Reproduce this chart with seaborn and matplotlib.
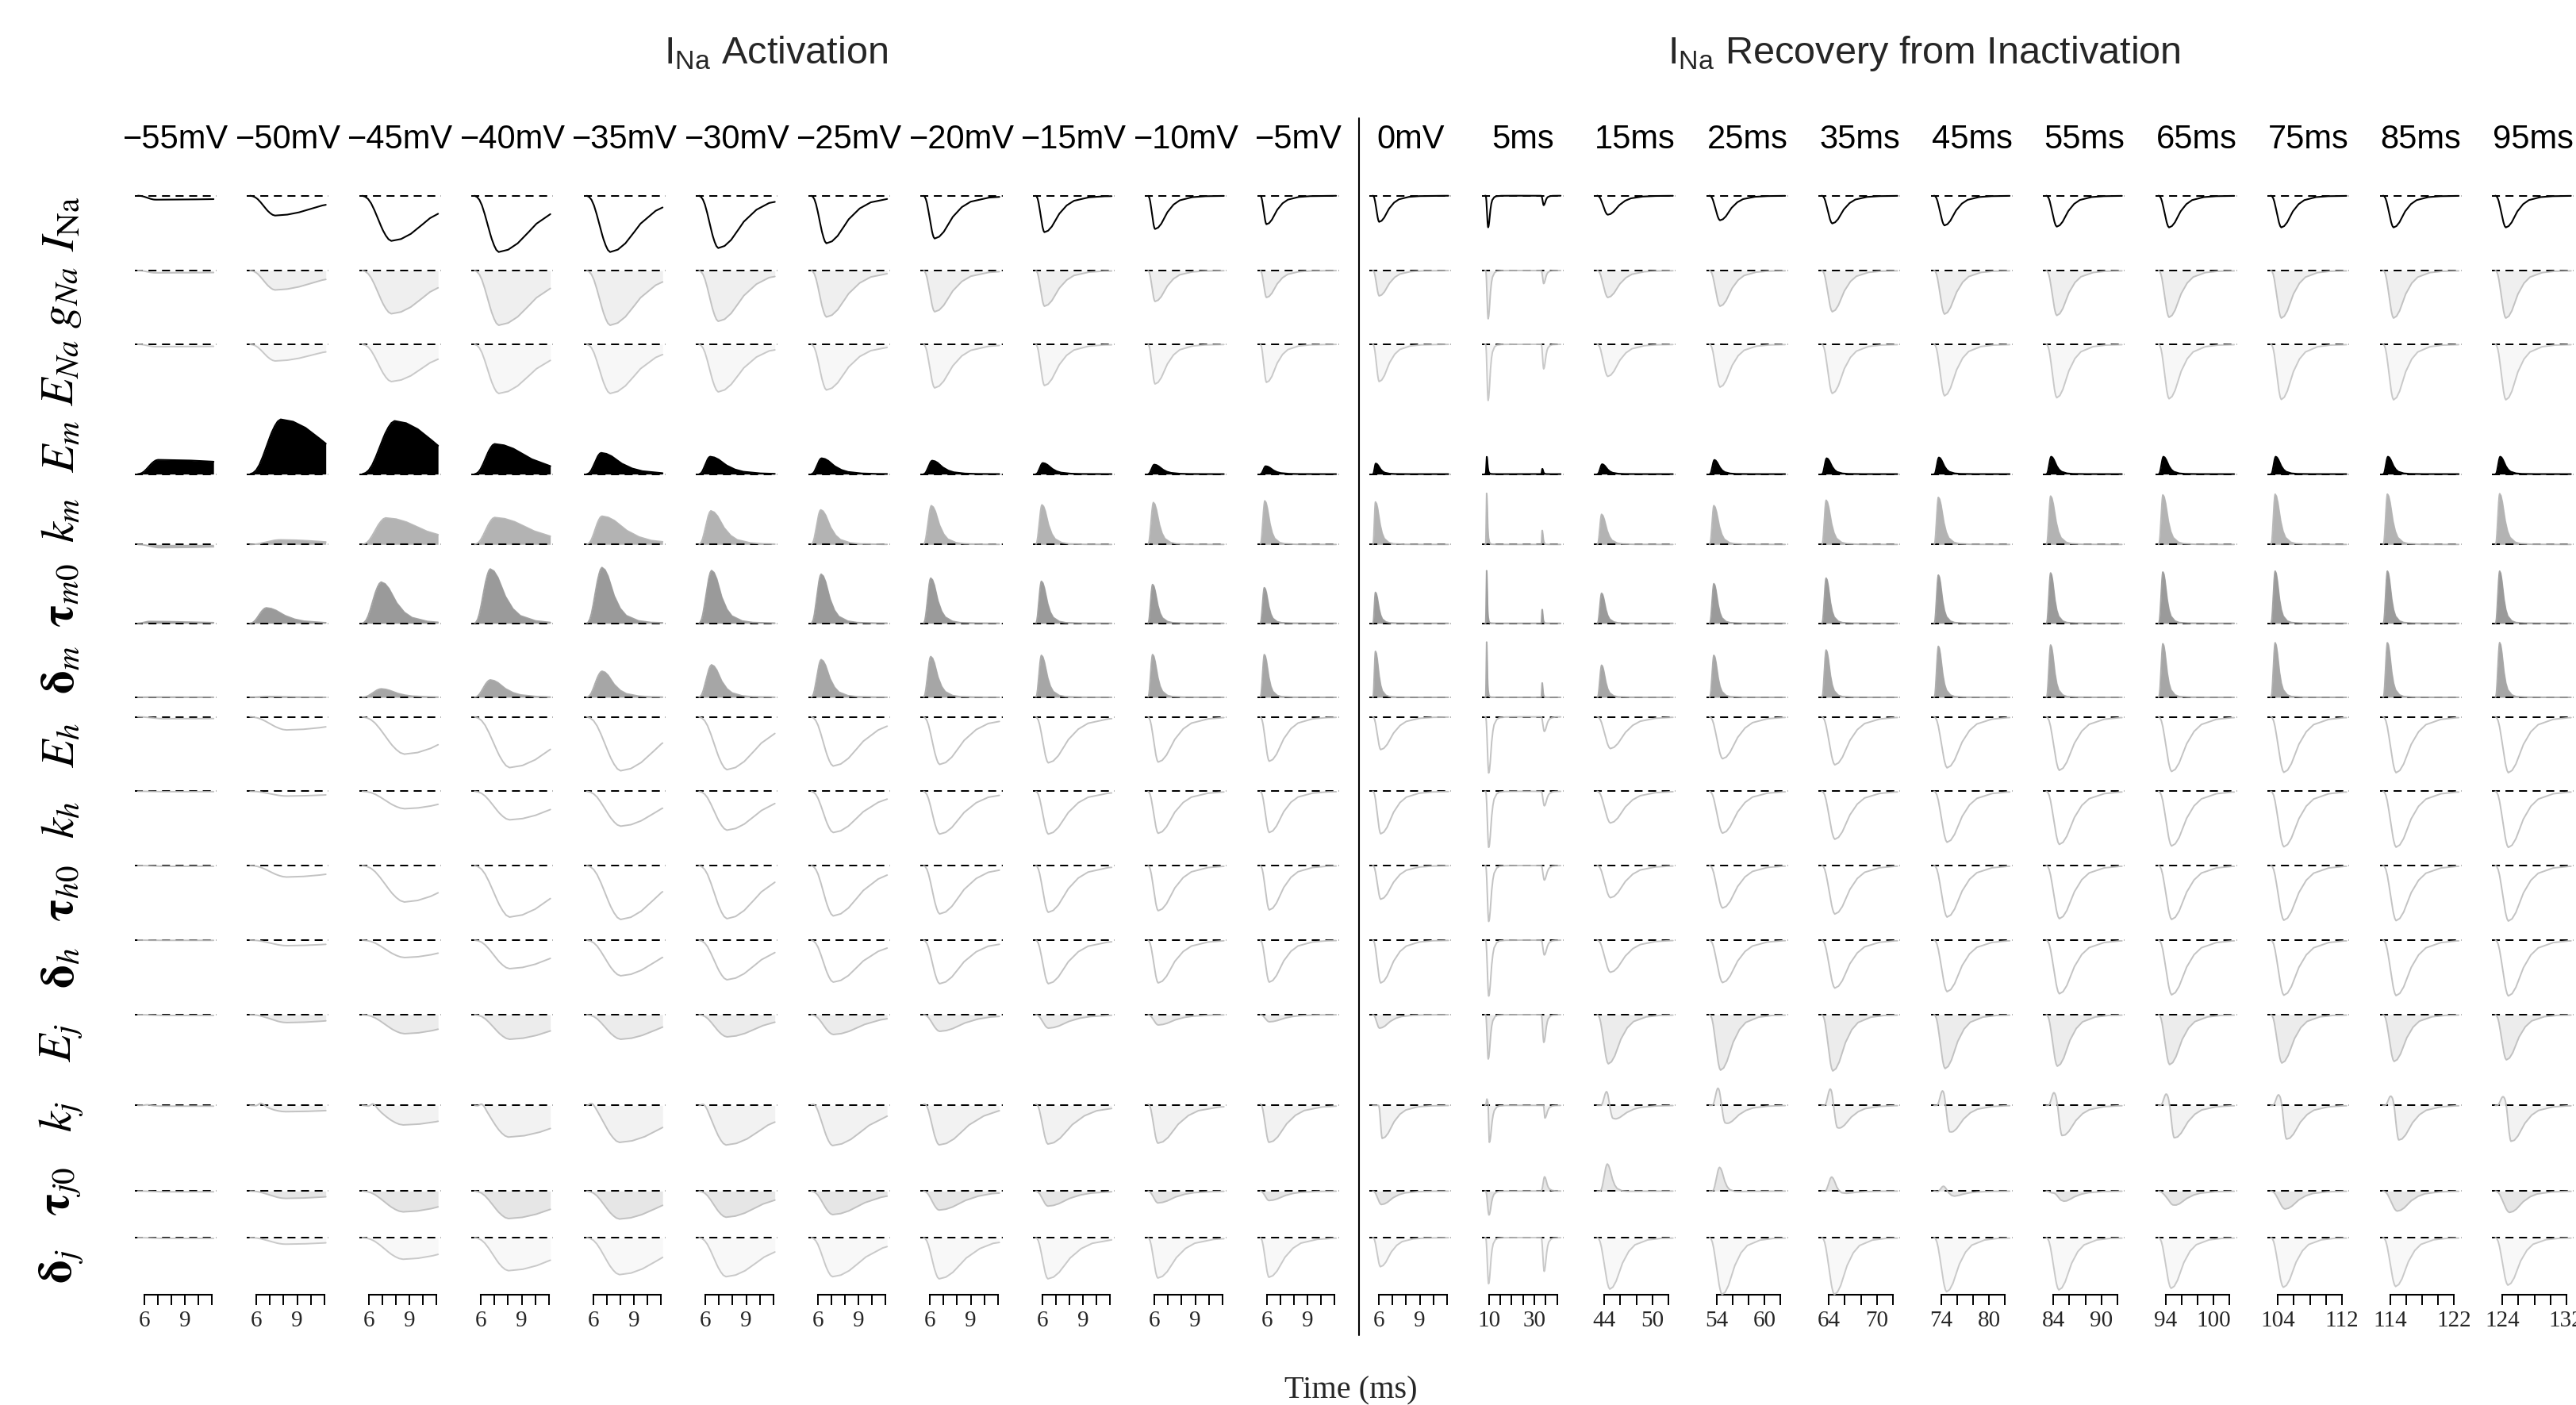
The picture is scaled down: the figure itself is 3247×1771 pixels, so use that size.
import numpy as np
import matplotlib
matplotlib.use("Agg")
import matplotlib.pyplot as plt
from matplotlib.lines import Line2D
import seaborn as sns

sns.set_theme(style="white")
plt.rcParams['font.family'] = ['Liberation Sans', 'DejaVu Sans']
plt.rcParams['mathtext.fontset'] = 'custom'
plt.rcParams['mathtext.rm'] = 'Liberation Sans'
plt.rcParams['mathtext.it'] = 'Liberation Sans:italic'
plt.rcParams['mathtext.bf'] = 'Liberation Sans:bold'

W, H, DPI = 3248, 1771, 100

# ---------------- categories ----------------
columns = ["\u221255mV", "\u221250mV", "\u221245mV", "\u221240mV", "\u221235mV", "\u221230mV",
           "\u221225mV", "\u221220mV", "\u221215mV", "\u221210mV", "\u22125mV",
           "0mV", "5ms", "15ms", "25ms", "35ms", "45ms", "55ms", "65ms", "75ms", "85ms", "95ms"]
row_labels = [r"$I_{\mathrm{Na}}$", r"$g_{Na}$", r"$E_{Na}$", r"$E_m$", r"$k_m$",
              r"$\mathbf{\tau}_{m0}$", r"$\mathbf{\delta}_m$", r"$E_h$", r"$k_h$",
              r"$\mathbf{\tau}_{h0}$", r"$\mathbf{\delta}_h$", r"$E_j$",
              r"$k_j$", r"$\mathbf{\tau}_{j0}$", r"$\mathbf{\delta}_j$"]

# time window of each column (ms) and its axis ticks
t_start = [5.55] * 12 + [8.3] + [43.1, 53.1, 63.1, 73.1, 83.1, 93.1, 103.1, 113.1, 123.1]
t_end = [11.1] * 12 + [41.6] + [52.6, 62.6, 72.6, 82.6, 92.6, 102.6, 112.6, 122.6, 132.6]
xtick_values = ([[6, 7, 8, 9, 10, 11]] * 12 + [[10, 15, 20, 25, 30, 35, 40]] +
                [[44, 46, 48, 50, 52], [54, 56, 58, 60, 62], [64, 66, 68, 70, 72],
                 [74, 76, 78, 80, 82], [84, 86, 88, 90, 92], [94, 96, 98, 100, 102],
                 [104, 106, 108, 110, 112], [114, 116, 118, 120, 122], [124, 126, 128, 130, 132]])
xtick_shown = ([[6, 9]] * 12 + [[10, 30]] +
               [[44, 50], [54, 60], [64, 70], [74, 80], [84, 90], [94, 100],
                [104, 112], [114, 122], [124, 132]])

# ---------------- peak values of each trace (per row, per column) ----------------
INa_amp = [-5, -25, -57, -71, -71, -66, -60, -54, -46, -42, -36,
           -33, -40, -24, -31, -35, -37.5, -39, -40, -40, -40, -40]
gNa_amp = [-3, -24.5, -54.5, -69, -69, -64, -58.6, -52, -45, -39, -34,
           -32, -61, -34, -45, -52, -55, -56.7, -59, -60, -60, -60]
ENa_amp = [-3, -21, -47, -62, -62, -60, -57.6, -55, -52, -50, -48,
           -47, -71, -40.5, -54, -62, -65, -67.4, -68.7, -69.6, -70, -70]
Em_amp = [18, 69, 67, 38, 26.8, 22, 20, 17, 14, 12, 10,
          13.4, 22, 12.5, 17.9, 20, 21, 22, 22, 22, 22, 22]
km_amp = [-4, 5.8, 33.5, 34, 35.7, 42.4, 43.7, 49, 50, 53, 55,
          53.6, 64.7, 38, 49, 55.8, 59.4, 61, 62.5, 63.4, 63.5, 64]
taum0_amp = [2.3, 19.5, 52, 68.5, 70.4, 66.6, 62, 57, 53, 49, 45,
             39, 66.6, 37.9, 50, 57, 60.8, 63.5, 64.7, 65.8, 65.8, 65.8]
deltam_amp = [0.3, 1, 10.7, 22, 33, 41, 47.6, 51.5, 53, 54, 54,
              58, 70, 40.5, 53, 59.7, 64.3, 66, 67.6, 68.8, 68.8, 69]
Eh_amp = [-2.3, -16.5, -47, -64, -68, -66.6, -62, -60, -58, -57, -56,
          -41.3, -71, -40, -52.8, -60.5, -64.3, -67.4, -68.9, -70, -70.4, -70.4]
kh_amp = [-0.5, -6, -22, -36, -44, -49, -52, -54, -54, -53, -52,
          -53.6, -71, -40, -52.8, -60.5, -64.3, -67, -69, -70, -70.5, -70.8]
tauh0_amp = [-1, -14.5, -46, -65, -68, -67, -63.5, -61, -59, -57, -56,
             -42.5, -70.8, -40.6, -53.6, -61.2, -65, -67, -68, -69, -69.5, -70]
deltah_amp = [-0.3, -7, -22, -36, -45, -50, -53, -55, -55, -54, -53,
              -54, -70.8, -40.6, -53.6, -60.5, -65, -67.7, -69, -69.5, -70, -70.4]
Ej_amp = [-1, -10, -24, -31, -31, -28, -25, -21, -17, -13, -9,
          -17, -56, -62, -70, -71, -68, -65, -63, -61, -59, -57]
kj_amp = [-1, -8, -24.7, -40, -46.7, -50, -50.7, -50, -49, -48, -47,
          -41.7, -47.3, -18.3, -24, -30, -35, -39, -41.7, -43.3, -44.3, -46]
tauj0_amp = [-1, -9.3, -26.3, -34.7, -35.3, -33, -29.7, -24, -19, -15, -12,
             -17, -30.3, -2, -2.7, -6, -9.3, -15.3, -19.3, -22.7, -25.3, -27]
deltaj_amp = [-1, -8.3, -27.3, -41.7, -46.7, -49.3, -49.3, -52, -52, -51, -50,
              -36.7, -58.3, -65, -71.7, -71.7, -68.3, -66, -64, -62.7, -61.7, -60]
# second test pulse in the 5 ms column
second_pulse_amp = [-12, -16.5, -31, 6.7, 17.9, 17.6, 18.4, -18.4, -18.4, -18.4, -18.8,
                    -35, -16, 18, -42.7]
# early positive lobes of k_j and tau_j0
kj_bump_amp = [1, 4, 5, 5, 4.5, 4, 3, 3, 2, 2, 2,
               0, 8, 17.3, 21.7, 20.7, 18.3, 16, 14.3, 13.3, 11.7, 11]
kj_bump_peak = [0.15, 0.17, 0.17, 0.13, 0.10, 0.10, 0.08, 0.07, 0.06, 0.06, 0.05,
                0.06, 0.06, 0.15, 0.14, 0.14, 0.14, 0.13, 0.13, 0.13, 0.13, 0.13]
tauj0_bump_amp = [0] * 13 + [35.7, 32, 22.3, 13, 7, 3, 0, 0, 0]
tauj0_bump_peak = [0.16] * 22

amps = [INa_amp, gNa_amp, ENa_amp, Em_amp, km_amp, taum0_amp, deltam_amp, Eh_amp, kh_amp,
        tauh0_amp, deltah_amp, Ej_amp, kj_amp, tauj0_amp, deltaj_amp]

# ---------------- timing of the traces (fraction of panel width) ----------------
onset_col = [0.035] * 11 + [0.04, 0.045] + [0.04] * 9
peak_col = [0.25, 0.34, 0.39, 0.33, 0.32, 0.27, 0.22, 0.17, 0.14, 0.12, 0.11,
            0.115, 0.075] + [0.165] * 9
decay_col = [1.5, 0.57, 0.47, 0.46, 0.37, 0.31, 0.27, 0.22, 0.18, 0.15, 0.13,
             0.12, 0.025] + [0.14] * 9
peak_fac_act = [1, 1, 1, 0.9, 0.75, 0.65, 0.65, 1.45, 1.45, 1.45, 1.45, 1.45, 1.4, 1.4, 1.4]
decay_fac_act = [1, 1, 1, 0.95, 0.9, 0.4, 0.4, 1.35, 1.35, 1.35, 1.35, 1.4, 1.65, 1.45, 1.5]
peak_fac_rec = [1, 1, 1, 0.45, 0.4, 0.4, 0.4, 1.25, 1.25, 1.25, 1.25, 1.05, 1.5, 1.35, 1.2]
decay_fac_rec = [1, 1.05, 1.05, 0.45, 0.45, 0.35, 0.35, 1.3, 1.3, 1.3, 1.3, 1.1, 1.2, 1.2, 1.1]
onset_lag_rec = [0, 0, 0, 0, 0, 0, 0, 0, 0, 0, 0, 0, 0.6, 0, 0]
# own timing of the E_m and k_m traces in the activation columns
Em_peak_act = [0.28, 0.41, 0.43, 0.28, 0.21, 0.17, 0.16, 0.14, 0.12, 0.11, 0.10]
Em_decay_act = [1.5, 0.6, 0.56, 0.45, 0.25, 0.2, 0.16, 0.13, 0.11, 0.10, 0.09]
km_peak_act = [0.30, 0.40, 0.32, 0.28, 0.22, 0.18, 0.15, 0.13, 0.11, 0.10, 0.09]
km_decay_act = [1.0, 0.6, 0.5, 0.48, 0.3, 0.16, 0.12, 0.10, 0.08, 0.07, 0.06]
act_peak_override = {3: Em_peak_act, 4: km_peak_act}
act_decay_override = {3: Em_decay_act, 4: km_decay_act}

second_onset, second_peak, second_decay = 0.725, 0.755, 0.025
bump_rise = [0.07] * 11 + [0.05, 0.015] + [0.07] * 9
bump_decay = [0.05] * 11 + [0.04, 0.012] + [0.035] * 9

# normalised pulse shape
RISE_S = [0, 0.1, 0.2, 0.3, 0.4, 0.5, 0.6, 0.7, 0.8, 0.9, 1.0]
RISE_V = [0, 0.02, 0.07, 0.16, 0.29, 0.44, 0.60, 0.75, 0.87, 0.96, 1.0]
DECAY_R = [0, 0.25, 0.5, 0.75, 1, 1.5, 2, 3, 4, 6, 10]
DECAY_V = [1, 0.96, 0.85, 0.68, 0.50, 0.27, 0.14, 0.045, 0.015, 0.003, 0]

# ---------------- styling ----------------
row_zero_px = [246.7, 341, 434, 597.6, 686.3, 785.7, 879, 903.6, 997.4, 1091, 1185,
               1279, 1393.3, 1501.3, 1560]
line_colors = ['black', '#bdbdbd', '#c4c4c4', 'black', '#b3b3b3', '#9a9a9a', '#a6a6a6',
               '#bdbdbd', '#bdbdbd', '#bdbdbd', '#bdbdbd', '#bdbdbd', '#bdbdbd', '#bdbdbd', '#c4c4c4']
fill_colors = [None, '#efefef', '#f7f7f7', 'black', '#b3b3b3', '#9a9a9a', '#a6a6a6',
               None, None, None, None, '#ececec', '#f2f2f2', '#e6e6e6', '#f8f8f8']

U = np.linspace(0.037, 0.963, 700)


def pulse(u, on, pk, d):
    y = np.zeros_like(u)
    pk = max(pk, on + 1e-3)
    m1 = (u >= on) & (u < pk)
    y[m1] = np.interp((u[m1] - on) / (pk - on), RISE_S, RISE_V)
    m2 = u >= pk
    y[m2] = np.interp((u[m2] - pk) / d, DECAY_R, DECAY_V)
    return y


def trace(i, c):
    on0 = onset_col[c]
    if c < 11:
        pf, df, lag = peak_fac_act[i], decay_fac_act[i], 0.0
    else:
        pf, df, lag = peak_fac_rec[i], decay_fac_rec[i], onset_lag_rec[i]
    pk = min(on0 + (peak_col[c] - on0) * pf, 0.9)
    d = decay_col[c] * df
    if c < 11 and i in act_peak_override:
        pk = act_peak_override[i][c]
        d = act_decay_override[i][c]
    on = on0 + lag * (pk - on0)
    y = amps[i][c] * pulse(U, on, pk, d)
    if c == 12:
        pk2 = second_onset + (second_peak - second_onset) * pf
        on2 = second_onset + lag * (pk2 - second_onset)
        y = y + second_pulse_amp[i] * pulse(U, on2, pk2, second_decay * df)
    if i == 12:
        bp = kj_bump_peak[c]
        y = y + kj_bump_amp[c] * pulse(U, bp - bump_rise[c], bp, bump_decay[c])
    if i == 13:
        bp = tauj0_bump_peak[c]
        y = y + tauj0_bump_amp[c] * pulse(U, bp - 0.09, bp, 0.06)
    return y


fig = plt.figure(figsize=(W / DPI, H / DPI), dpi=DPI)
fig.patch.set_facecolor('white')

col_left = [170 + 141.5 * c for c in range(22)]
panel_w = 103

for i in range(len(row_labels)):
    curves = [trace(i, c) for c in range(22)]
    ymin = min(0.0, min(cv.min() for cv in curves))
    ymax = max(0.0, max(cv.max() for cv in curves))
    top_px = row_zero_px[i] - ymax
    h_px = ymax - ymin
    for c in range(22):
        ax = fig.add_axes([col_left[c] / W, 1 - (top_px + h_px) / H, panel_w / W, h_px / H])
        ax.set_facecolor('none')
        xl0 = t_start[c] - 0.04 * (t_end[c] - t_start[c])
        xl1 = t_end[c] + 0.04 * (t_end[c] - t_start[c])
        t = xl0 + U * (xl1 - xl0)
        y = curves[c]
        if fill_colors[i] is not None:
            ax.fill_between(t, 0, y, color=fill_colors[i], lw=0, zorder=1, clip_on=False)
        ax.axhline(0, color='black', lw=1.45, ls=(0, (5, 3.5)), zorder=2, clip_on=False)
        sns.lineplot(x=t, y=y, ax=ax, color=line_colors[i],
                     lw=1.5 if line_colors[i] == 'black' else 1.4,
                     alpha=1.0 if line_colors[i] == 'black' else 0.9,
                     estimator=None, zorder=3, clip_on=False)
        ax.set_xlim(xl0, xl1)
        ax.set_ylim(ymin, ymax)
        for s in ax.spines.values():
            s.set_visible(False)
        ax.set_ylabel('')
        ax.set_xlabel('')
        ax.set_yticks([])
        if i == len(row_labels) - 1:
            ticks = xtick_values[c]
            ax.set_xticks(ticks)
            ax.set_xticklabels([str(v) if v in xtick_shown[c] else '' for v in ticks],
                               family='Liberation Serif', fontsize=21)
            ax.spines['bottom'].set_visible(True)
            ax.spines['bottom'].set_bounds(ticks[0], ticks[-1])
            ax.spines['bottom'].set_linewidth(1.5)
            ax.spines['bottom'].set_color('black')
            ax.tick_params(axis='x', direction='out', length=9.5, width=1.4,
                           color='black', pad=5, bottom=True)
        else:
            ax.set_xticks([])
    # row label
    yc = top_px + h_px / 2
    fig.text(78 / W, 1 - yc / H, row_labels[i], rotation=90, ha='center', va='center',
             fontsize=42, math_fontfamily='stix', color='black')

# column labels
for c in range(22):
    fig.text((col_left[c] + panel_w / 2) / W, 1 - 176 / H, columns[c], ha='center',
             va='center', fontsize=30, family='Liberation Sans', color='black')

# group titles
fig.text(978 / W, 1 - 67 / H, r"$\mathrm{I_{Na}}$ Activation", ha='center', va='center',
         fontsize=35, family='Liberation Sans', math_fontfamily='custom')
fig.text(2425 / W, 1 - 67 / H, r"$\mathrm{I_{Na}}$ Recovery from Inactivation", ha='center',
         va='center', fontsize=35, family='Liberation Sans', math_fontfamily='custom')

# separator between the two protocols
fig.add_artist(Line2D([1713 / W, 1713 / W], [1 - 149 / H, 1 - 1683 / H], color='black', lw=1.5))

# x-axis title
fig.text(1703 / W, 1 - 1753 / H, "Time (ms)", ha='center', va='center', fontsize=29,
         family='Liberation Serif')

fig.savefig("out.png", dpi=DPI, facecolor='white')
